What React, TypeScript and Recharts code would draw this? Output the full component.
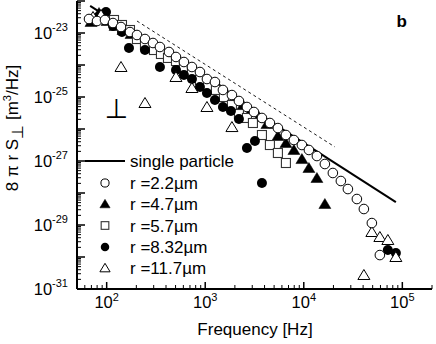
import React from 'react';
import { ComposedChart, XAxis, YAxis, Scatter, Customized } from 'recharts';

const FONT = '"Liberation Sans", Arial, Helvetica, sans-serif';

// ---- axis ticks ----
const xMajor = [100, 1000, 10000, 100000];
const xMinor = [50, 60, 70, 80, 90, 200, 300, 400, 500, 600, 700, 800, 900, 2000, 3000, 4000, 5000, 6000, 7000, 8000, 9000,
  20000, 30000, 40000, 50000, 60000, 70000, 80000, 90000, 200000];
const yMajorExp = [-31, -30, -29, -28, -27, -26, -25, -24, -23, -22];
const yLabelExp = [-31, -29, -27, -25, -23];
const yMajor = yMajorExp.map((e) => Number(`1e${e}`));
const yMinor: number[] = [];
yMajorExp.slice(0, -1).forEach((e) => {
  [2, 3, 4, 5, 6, 7, 8, 9].forEach((k) => yMinor.push(Number(`${k}e${e}`)));
});
const xTicks = [...xMinor, ...xMajor].sort((a, b) => a - b);
const yTicks = [...yMinor, ...yMajor].sort((a, b) => a - b);

// ---- series ----
const lineF = [68, 86000];
const lineS = [7.0e-23, 5.2e-29];
const dashF = [203, 20700];
const dashS = [2.37e-23, 2.75e-27];

const f22 = [66.2, 79.8, 96.1, 115.9, 139.8, 172.4, 203, 244.7, 295, 347, 428.7, 505, 608, 733, 884, 1041, 1255, 1512, 1866,
  2198, 2650, 3120, 3762, 4533, 5464, 6587, 7940, 9572, 11270, 13590, 16370, 19730, 23790, 28030, 34580, 40720, 49080, 59160];
const s22 = [2.74e-23, 2.37e-23, 2.55e-23, 2.05e-23, 1.54e-23, 1.07e-23, 8.66e-24, 6.49e-24, 4.87e-24, 3.65e-24, 2.55e-24,
  1.78e-24, 1.24e-24, 8.66e-25, 6.04e-25, 3.65e-25, 2.94e-25, 1.66e-25, 1.15e-25, 7.5e-26, 4.87e-26, 3.4e-26, 2.21e-26,
  1.54e-26, 1.07e-26, 6.49e-27, 4.53e-27, 3.16e-27, 2.21e-27, 1.43e-27, 8.05e-28, 4.22e-28, 2.37e-28, 1.33e-28, 6.49e-29,
  3.16e-29, 1.15e-29, 1.15e-30];

const f47 = [69.3, 83.6, 100.8, 121.5, 146.4, 176.5, 212.7, 256.4, 309.1, 372.6, 449.1, 541.5, 652.6, 786.7, 948.2, 1143,
  1378, 1661, 2002, 2413, 2909, 3506, 4227, 5464, 6587, 7940, 9572, 11270, 13590, 16370];
const s47 = [2.21e-23, 4.22e-23, 2.37e-23, 1.66e-23, 1.24e-23, 9.3e-24, 6.49e-24, 4.87e-24, 3.65e-24, 2.55e-24, 1.78e-24,
  1.24e-24, 9.3e-25, 6.04e-25, 3.93e-25, 2.74e-25, 1.91e-25, 1.24e-25, 8.05e-26, 5.62e-26, 3.65e-26, 2.37e-26, 1.43e-26,
  6.04e-27, 3.65e-27, 2.21e-27, 1.15e-27, 6.04e-28, 2.94e-28, 4.53e-29];

const f57 = [118.7, 143.0, 172.4, 203, 244.7, 302, 355.5, 418.8, 505, 608, 733, 884, 1066, 1284, 1548, 1866, 2198, 2650,
  3048, 3762, 4533, 5464, 6587];
const s57 = [2.55e-23, 1.78e-23, 1.24e-23, 6.49e-24, 4.22e-24, 2.94e-24, 2.21e-24, 1.66e-24, 1.33e-24, 8.66e-25, 6.04e-25,
  3.4e-25, 2.21e-25, 1.66e-25, 1.0e-25, 5.62e-26, 2.94e-26, 2.21e-26, 1.54e-26, 6.49e-27, 3.16e-27, 1.78e-27, 8.66e-28];

const f832 = [81.7, 98.4, 115.9, 143.0, 168.4, 244.7, 347, 505, 608, 733, 884, 1041, 1255, 1512, 1823, 2198, 2650, 3194,
  3762, 71290, 85970];
const s832 = [3.16e-23, 4.53e-23, 1.66e-23, 1.07e-23, 3.4e-24, 2.94e-24, 8.66e-25, 6.98e-25, 4.87e-25, 3.65e-25, 2.05e-25,
  1.33e-25, 8.05e-26, 4.87e-26, 3.65e-26, 2.05e-26, 2.55e-27, 4.22e-27, 2.05e-28, 1.66e-30, 1.33e-30];

const f117 = [72.7, 87.6, 139.8, 244.7, 505, 733, 1041, 1866, 40720, 49080, 59160, 71290, 85970];
const s117 = [3.16e-23, 3.65e-23, 8.66e-25, 6.49e-26, 4.22e-25, 1.91e-25, 4.87e-26, 1.15e-26, 2.74e-31, 6.04e-30, 4.22e-30,
  3.4e-30, 1.0e-30];

const legendLabels = ['single particle', 'r =2.2\u00b5m', 'r =4.7\u00b5m', 'r =5.7\u00b5m', 'r =8.32\u00b5m', 'r =11.7\u00b5m'];

const zip = (f: number[], s: number[]) => f.map((v, i) => ({ f: v, s: s[i] }));

// ---- marker shapes ----
type MK = 'oc' | 'ft' | 'sq' | 'fc' | 'ot';
const marker = (kind: MK, cx: number, cy: number, scale = 1) => {
  const r = 4.8 * scale;
  switch (kind) {
    case 'oc':
      return <circle cx={cx} cy={cy} r={r} fill="#fff" stroke="#000" strokeWidth={1} />;
    case 'fc':
      return <circle cx={cx} cy={cy} r={5 * scale} fill="#000" />;
    case 'sq':
      return <rect x={cx - 4.5 * scale} y={cy - 4.5 * scale} width={9 * scale} height={9 * scale} fill="#fff" stroke="#333" strokeWidth={1.1} />;
    case 'ft':
    case 'ot': {
      const w = 6 * scale;
      const pts = `${cx},${cy - 5.5 * scale} ${cx - w},${cy + 4.5 * scale} ${cx + w},${cy + 4.5 * scale}`;
      return kind === 'ft'
        ? <polygon points={pts} fill="#000" stroke="#000" strokeWidth={0.5} />
        : <polygon points={pts} fill="#fff" stroke="#000" strokeWidth={1} strokeLinejoin="miter" />;
    }
  }
  return <g />;
};
const shapeOf = (kind: MK) => (p: any) => (p.cx == null ? <g /> : marker(kind, p.cx, p.cy));

// ---- ticks ----
const supExp = (v: number) => String(Math.round(Math.log10(v)));

const XTickBottom = (p: any) => {
  const { x, y, payload } = p;
  const v = payload.value;
  const major = xMajor.includes(v);
  return (
    <g>
      <line x1={x} x2={x} y1={y} y2={y - (major ? 7 : 4)} stroke="#000" strokeWidth={major ? 1.5 : 1} />
      {major && (
        <text x={x} y={y + 19} textAnchor="middle" fontFamily={FONT} fontSize={16.5} fill="#000">
          <tspan>10</tspan>
          <tspan dy={-7} fontSize={11}>{supExp(v)}</tspan>
        </text>
      )}
    </g>
  );
};
const XTickTop = (p: any) => {
  const { x, y, payload } = p;
  const major = xMajor.includes(payload.value);
  return <line x1={x} x2={x} y1={y} y2={y + (major ? 7 : 4)} stroke="#000" strokeWidth={major ? 1.5 : 1} />;
};
const YTickLeft = (p: any) => {
  const { x, y, payload } = p;
  const v = payload.value;
  const major = yMajor.includes(v);
  const e = Math.round(Math.log10(v));
  const labeled = major && yLabelExp.includes(e);
  return (
    <g>
      <line x1={x} x2={x + (major ? 8 : 4)} y1={y} y2={y} stroke="#000" strokeWidth={major ? 1.5 : 1} />
      {labeled && (
        <text x={x - 9} y={y + 6} textAnchor="end" fontFamily={FONT} fontSize={16.5} fill="#000">
          <tspan>10</tspan>
          <tspan dy={-8} fontSize={11}>{String(e)}</tspan>
        </text>
      )}
    </g>
  );
};
const YTickRight = (p: any) => {
  const { x, y, payload } = p;
  const major = yMajor.includes(payload.value);
  return <line x1={x} x2={x - (major ? 8 : 4)} y1={y} y2={y} stroke="#000" strokeWidth={major ? 1.5 : 1} />;
};

// ---- annotations (legend, labels) ----
const legendKinds: MK[] = ['oc', 'ft', 'sq', 'fc', 'ot'];
const legendRows = [161, 183, 204, 225.5, 247, 268];

const Annotations = () => (
  <g fontFamily={FONT} fill="#000">
    {/* y-axis title */}
    <text x={18} y={128} transform="rotate(-90, 18, 128)" textAnchor="middle" fontSize={17}>
      <tspan>8 π r S</tspan>
      <tspan dy={5} fontSize={16}>⊥</tspan>
      <tspan dy={-5}> [m</tspan>
      <tspan dy={-7} fontSize={11}>3</tspan>
      <tspan dy={7}>/Hz]</tspan>
    </text>
    {/* x-axis title */}
    <text x={255} y={335} textAnchor="middle" fontSize={17}>Frequency [Hz]</text>
    {/* panel letter */}
    <text x={407} y={27} textAnchor="end" fontSize={17} fontWeight="bold">b</text>
    {/* perpendicular symbol */}
    <text x={116.5} y={118} textAnchor="middle" fontSize={27} fontFamily='"DejaVu Sans", sans-serif'>⊥</text>
    {/* legend */}
    <line x1={85} x2={125} y1={legendRows[0]} y2={legendRows[0]} stroke="#000" strokeWidth={2} />
    {legendLabels.map((t, i) => (
      <text key={t} x={130} y={legendRows[i] + 6} fontSize={17}>{t}</text>
    ))}
    {legendKinds.map((k, i) => (
      <g key={k}>{marker(k, 105, legendRows[i + 1], 0.85)}</g>
    ))}
  </g>
);

export default function App() {
  const axisLine = { stroke: '#000', strokeWidth: 2 };
  return (
    <div style={{ position: 'absolute', left: 0, top: 0, background: '#fff' }}>
      <ComposedChart width={436} height={344} margin={{ top: 1, right: 4, left: 0, bottom: 0 }}>
        <XAxis xAxisId="b" type="number" dataKey="f" scale="log" domain={[50, 200000]} allowDataOverflow
          ticks={xTicks} interval={0} tickSize={0} tickMargin={0} tickLine={false} tick={<XTickBottom />}
          height={55} axisLine={axisLine} />
        <XAxis xAxisId="t" orientation="top" type="number" dataKey="f" scale="log" domain={[50, 200000]} allowDataOverflow
          ticks={xTicks} interval={0} tickSize={0} tickMargin={0} tickLine={false} tick={<XTickTop />}
          height={0} axisLine={axisLine} />
        <YAxis yAxisId="l" type="number" dataKey="s" scale="log" domain={[1e-31, 1e-22]} allowDataOverflow
          ticks={yTicks} interval={0} tickSize={0} tickMargin={0} tickLine={false} tick={<YTickLeft />}
          width={77} axisLine={axisLine} />
        <YAxis yAxisId="r" orientation="right" type="number" dataKey="s" scale="log" domain={[1e-31, 1e-22]} allowDataOverflow
          ticks={yTicks} interval={0} tickSize={0} tickMargin={0} tickLine={false} tick={<YTickRight />}
          width={0} axisLine={axisLine} />

        <Scatter xAxisId="b" yAxisId="l" data={zip(lineF, lineS)} fill="none" line={{ stroke: '#000', strokeWidth: 2 }}
          lineType="joint" shape={() => <g />} isAnimationActive={false} />
        <Scatter xAxisId="b" yAxisId="l" data={zip(dashF, dashS)} fill="none"
          line={{ stroke: '#000', strokeWidth: 0.9, strokeDasharray: '3 3' }}
          lineType="joint" shape={() => <g />} isAnimationActive={false} />

        <Scatter xAxisId="b" yAxisId="l" data={zip(f47, s47)} shape={shapeOf('ft')} isAnimationActive={false} />
        <Scatter xAxisId="b" yAxisId="l" data={zip(f57, s57)} shape={shapeOf('sq')} isAnimationActive={false} />
        <Scatter xAxisId="b" yAxisId="l" data={zip(f832, s832)} shape={shapeOf('fc')} isAnimationActive={false} />
        <Scatter xAxisId="b" yAxisId="l" data={zip(f117, s117)} shape={shapeOf('ot')} isAnimationActive={false} />
        <Scatter xAxisId="b" yAxisId="l" data={zip(f22, s22)} shape={shapeOf('oc')} isAnimationActive={false} />

        <Customized component={Annotations} />
      </ComposedChart>
    </div>
  );
}
